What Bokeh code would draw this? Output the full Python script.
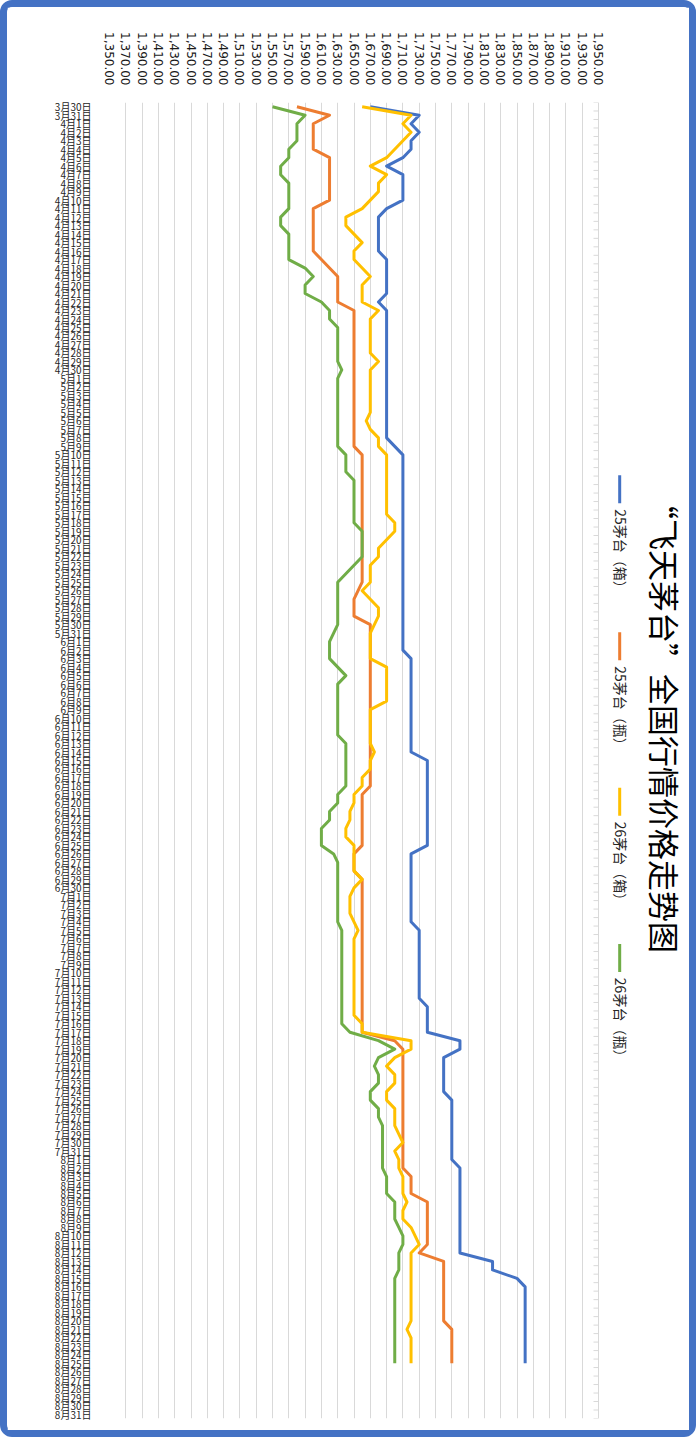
import math
from bokeh.plotting import figure
from bokeh.models import Range1d, FixedTicker, NumeralTickFormatter, ColumnDataSource
from bokeh.core.properties import value
from bokeh.embed import file_html
from bokeh.resources import INLINE

# ---------------- data ----------------
title_text = "“飞天茅台”全国行情价格走势图"

months = [(3, 30, 31), (4, 1, 30), (5, 1, 31), (6, 1, 30), (7, 1, 31), (8, 1, 31)]
categories = [f"{m}月{d}日" for (m, a, b) in months for d in range(a, b + 1)]  # 3月30日 .. 8月31日

series_names = ["25茅台（箱）", "25茅台（瓶）", "26茅台（箱）", "26茅台（瓶）"]
series_colors = ["#4472C4", "#ED7D31", "#FFC000", "#70AD47"]

mt25_box = [
    1670, 1730, 1720, 1730, 1720, 1720, 1710, 1690, 1710, 1710,
    1710, 1710, 1690, 1680, 1680, 1680, 1680, 1680, 1690, 1690,
    1690, 1690, 1690, 1680, 1690, 1690, 1690, 1690, 1690, 1690,
    1690, 1690, 1690, 1690, 1690, 1690, 1690, 1690, 1690, 1690,
    1700, 1710, 1710, 1710, 1710, 1710, 1710, 1710, 1710, 1710,
    1710, 1710, 1710, 1710, 1710, 1710, 1710, 1710, 1710, 1710,
    1710, 1710, 1710, 1710, 1710, 1720, 1720, 1720, 1720, 1720,
    1720, 1720, 1720, 1720, 1720, 1720, 1720, 1740, 1740, 1740,
    1740, 1740, 1740, 1740, 1740, 1740, 1740, 1740, 1720, 1720,
    1720, 1720, 1720, 1720, 1720, 1720, 1720, 1730, 1730, 1730,
    1730, 1730, 1730, 1730, 1730, 1730, 1740, 1740, 1740, 1740,
    1780, 1780, 1760, 1760, 1760, 1760, 1760, 1770, 1770, 1770,
    1770, 1770, 1770, 1770, 1770, 1780, 1780, 1780, 1780, 1780,
    1780, 1780, 1780, 1780, 1780, 1780, 1820, 1820, 1850, 1860,
    1860, 1860, 1860, 1860, 1860, 1860, 1860, 1860, 1860,
]

mt25_bottle = [
    1580, 1620, 1600, 1600, 1600, 1600, 1620, 1620, 1620, 1620,
    1620, 1620, 1600, 1600, 1600, 1600, 1600, 1600, 1610, 1620,
    1630, 1630, 1630, 1630, 1650, 1650, 1650, 1650, 1650, 1650,
    1650, 1650, 1650, 1650, 1650, 1650, 1650, 1650, 1650, 1650,
    1650, 1660, 1660, 1660, 1660, 1660, 1660, 1660, 1660, 1660,
    1660, 1660, 1660, 1660, 1660, 1660, 1660, 1655, 1650, 1650,
    1650, 1670, 1670, 1670, 1670, 1670, 1670, 1670, 1670, 1670,
    1670, 1670, 1670, 1670, 1670, 1670, 1670, 1670, 1670, 1670,
    1670, 1660, 1660, 1660, 1660, 1660, 1660, 1660, 1650, 1650,
    1650, 1660, 1660, 1660, 1660, 1660, 1660, 1660, 1660, 1660,
    1660, 1660, 1660, 1660, 1660, 1660, 1660, 1660, 1660, 1660,
    1700, 1710, 1710, 1710, 1710, 1710, 1710, 1710, 1710, 1710,
    1710, 1710, 1710, 1710, 1710, 1710, 1720, 1720, 1720, 1740,
    1740, 1740, 1740, 1740, 1740, 1730, 1760, 1760, 1760, 1760,
    1760, 1760, 1760, 1760, 1770, 1770, 1770, 1770, 1770,
]

mt26_box = [
    1660, 1720, 1710, 1720, 1710, 1700, 1690, 1670, 1690, 1680,
    1680, 1670, 1660, 1640, 1640, 1650, 1660, 1650, 1650, 1660,
    1670, 1660, 1660, 1660, 1680, 1670, 1670, 1670, 1670, 1670,
    1680, 1670, 1670, 1670, 1670, 1670, 1670, 1665, 1670, 1680,
    1680, 1690, 1690, 1690, 1690, 1690, 1690, 1690, 1690, 1700,
    1700, 1690, 1680, 1680, 1670, 1670, 1670, 1660, 1670, 1680,
    1680, 1675, 1670, 1670, 1670, 1670, 1690, 1690, 1690, 1690,
    1690, 1670, 1670, 1670, 1670, 1670, 1675, 1670, 1670, 1660,
    1660, 1650, 1650, 1645, 1645, 1640, 1640, 1650, 1650, 1650,
    1650, 1660, 1650, 1645, 1645, 1645, 1650, 1655, 1650, 1650,
    1650, 1650, 1650, 1650, 1650, 1650, 1650, 1650, 1660, 1660,
    1720, 1720, 1700, 1690, 1700, 1700, 1690, 1690, 1700, 1700,
    1700, 1705, 1710, 1700, 1705, 1705, 1710, 1710, 1710, 1715,
    1710, 1710, 1720, 1725, 1730, 1720, 1720, 1720, 1720, 1720,
    1720, 1720, 1720, 1720, 1715, 1720, 1720, 1720, 1720,
]

mt26_bottle = [
    1550, 1590, 1580, 1580, 1580, 1570, 1570, 1560, 1560, 1570,
    1570, 1570, 1570, 1560, 1560, 1570, 1570, 1570, 1570, 1590,
    1600, 1590, 1590, 1610, 1620, 1620, 1630, 1630, 1630, 1630,
    1630, 1635, 1630, 1630, 1630, 1630, 1630, 1630, 1630, 1630,
    1630, 1640, 1640, 1640, 1650, 1650, 1650, 1650, 1650, 1650,
    1660, 1660, 1660, 1660, 1650, 1640, 1630, 1630, 1630, 1630,
    1630, 1630, 1625, 1620, 1620, 1620, 1630, 1640, 1630, 1630,
    1630, 1630, 1630, 1630, 1630, 1640, 1640, 1640, 1640, 1640,
    1640, 1630, 1630, 1620, 1620, 1610, 1610, 1610, 1625, 1630,
    1630, 1630, 1630, 1630, 1630, 1630, 1630, 1635, 1635, 1635,
    1635, 1635, 1635, 1635, 1635, 1635, 1635, 1635, 1635, 1645,
    1680, 1700, 1680, 1675, 1680, 1680, 1670, 1670, 1680, 1680,
    1685, 1685, 1685, 1685, 1685, 1685, 1690, 1690, 1690, 1700,
    1700, 1700, 1705, 1710, 1710, 1705, 1705, 1705, 1700, 1700,
    1700, 1700, 1700, 1700, 1700, 1700, 1700, 1700, 1700,
]

value_ticks = list(range(1350, 1951, 20))

# ---------------- layout ----------------
PX_PER_UNIT = 0.815
W, H = 696, 1437
LEFT, RIGHT, TOP, BOTTOM = 102, 16, 95, 26
x_end = 1350 + (W - LEFT - RIGHT) / PX_PER_UNIT
n_cat = len(categories)

p = figure(width=W, height=H, output_backend="svg", toolbar_location=None,
           x_range=Range1d(1350, x_end), y_range=Range1d(n_cat - 0.5, -0.5),
           x_axis_location="above",
           min_border_left=LEFT, min_border_right=RIGHT,
           min_border_top=TOP, min_border_bottom=BOTTOM,
           background_fill_color="white", border_fill_color="white")
p.styles = {"border": "7px solid #4472C4", "border-radius": "12px"}
p.outline_line_color = None

# value axis (top)
p.xaxis.ticker = FixedTicker(ticks=value_ticks)
p.xaxis.formatter = NumeralTickFormatter(format="0,0.00")
p.xaxis.major_label_orientation = -math.pi / 2
p.xaxis.axis_line_color = None
p.xaxis.major_tick_line_color = None
p.xaxis.minor_tick_line_color = None
p.xaxis.major_label_standoff = 11
p.xaxis.major_label_text_font = "DejaVu Sans"
p.xaxis.major_label_text_font_size = "12px"
p.xaxis.major_label_text_color = "#1a1a1a"
p.xgrid.grid_line_color = "#D9D9D9"
p.xgrid.grid_line_width = 1

# category axis (left)
p.yaxis.ticker = FixedTicker(ticks=list(range(n_cat)))
p.yaxis.major_label_overrides = {i: c for i, c in enumerate(categories)}
p.yaxis.axis_line_color = None
p.yaxis.major_tick_line_color = None
p.yaxis.minor_tick_line_color = None
p.yaxis.major_label_standoff = 12
p.yaxis.major_label_text_font = "Noto Sans CJK SC"
p.yaxis.major_label_text_font_size = "10px"
p.yaxis.major_label_text_color = "#262626"
p.ygrid.grid_line_color = None

# tick marks along the far value edge (category boundaries)
bounds = [i - 0.5 for i in range(n_cat + 1)]
tick_len = 5 / PX_PER_UNIT
p.segment(x0=[value_ticks[-1] - tick_len] * len(bounds), y0=bounds,
          x1=[value_ticks[-1]] * len(bounds), y1=bounds,
          line_color="#D9D9D9", line_width=1)

# series
all_series = [mt25_box, mt25_bottle, mt26_box, mt26_bottle]
for vals, col in zip(all_series, series_colors):
    src = ColumnDataSource(dict(v=vals, d=list(range(len(vals)))))
    p.line(x="v", y="d", source=src, line_color=col, line_width=3, line_join="round")

# legend (rotated, drawn in the right margin area)
leg_x_marker = 1976
leg_x_text = 1977
leg_starts = [43.4, 61.9, 80.2, 98.6]
for name, col, y0 in zip(series_names, series_colors, leg_starts):
    p.segment(x0=[leg_x_marker], y0=[y0], x1=[leg_x_marker], y1=[y0 + 3.3],
              line_color=col, line_width=3)
    p.text(x=[leg_x_text], y=[y0 + 4.0], text=[name], angle=-math.pi / 2,
           text_align="left", text_baseline="middle",
           text_font=value("Noto Sans CJK SC"), text_font_size="14px",
           text_color="#262626")

# title (rotated)
p.text(x=[2032], y=[44.9], text=[title_text], angle=-math.pi / 2,
       text_align="left", text_baseline="middle",
       text_font=value("Noto Sans CJK SC"), text_font_size="31px",
       text_color="#000000")

open("out.html", "w").write(file_html(p, INLINE))
